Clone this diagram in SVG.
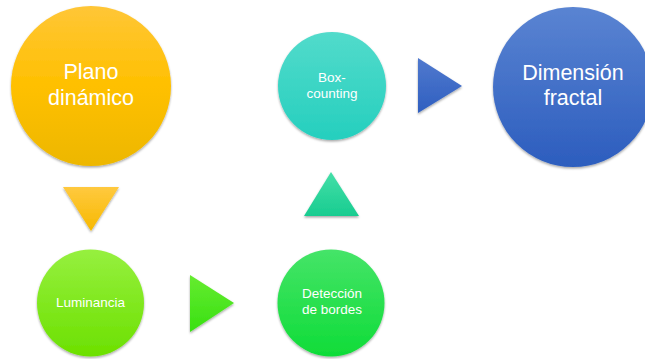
<svg xmlns="http://www.w3.org/2000/svg" width="645" height="359" viewBox="0 0 645 359">
<defs>
<linearGradient id="gY" x1="0" y1="0" x2="0" y2="1"><stop offset="0" stop-color="#FFC637"/><stop offset="0.5" stop-color="#FFC000"/><stop offset="1" stop-color="#EDB700"/></linearGradient>
<linearGradient id="gYt" x1="0" y1="0" x2="0" y2="1"><stop offset="0" stop-color="#FFC93F"/><stop offset="1" stop-color="#F7B900"/></linearGradient>
<linearGradient id="gL" x1="0" y1="0" x2="0" y2="1"><stop offset="0" stop-color="#96F03F"/><stop offset="1" stop-color="#6CE000"/></linearGradient>
<linearGradient id="gLt" x1="0" y1="0" x2="0" y2="1"><stop offset="0" stop-color="#66EC30"/><stop offset="1" stop-color="#38E012"/></linearGradient>
<linearGradient id="gD" x1="0" y1="0" x2="0" y2="1"><stop offset="0" stop-color="#45E468"/><stop offset="1" stop-color="#0FDC38"/></linearGradient>
<linearGradient id="gTt" x1="0" y1="0" x2="0" y2="1"><stop offset="0" stop-color="#44DFA8"/><stop offset="1" stop-color="#18CC90"/></linearGradient>
<linearGradient id="gT" x1="0" y1="0" x2="0" y2="1"><stop offset="0" stop-color="#52DBCB"/><stop offset="1" stop-color="#25CFBE"/></linearGradient>
<linearGradient id="gBt" x1="0" y1="0" x2="0" y2="1"><stop offset="0" stop-color="#5079CE"/><stop offset="1" stop-color="#2F5FC0"/></linearGradient>
<linearGradient id="gB" x1="0" y1="0" x2="0" y2="1"><stop offset="0" stop-color="#5A84D2"/><stop offset="1" stop-color="#2C5DBE"/></linearGradient>
<filter id="sh" x="-20%" y="-20%" width="140%" height="150%"><feDropShadow dx="0" dy="1.5" stdDeviation="1.2" flood-color="#000" flood-opacity="0.35"/></filter>
</defs>
<style>
.t{fill:#fff;font-family:"Liberation Sans",Arial,sans-serif;text-anchor:middle}
.lg{font-size:21.5px}
.sm{font-size:13.5px}
</style>
<rect width="645" height="359" fill="#fff"/>
<g id="connectors">
<polygon points="63,187 119,187 91,231" fill="url(#gYt)" filter="url(#sh)"/>
<polygon points="190,275 234,303 190,332" fill="url(#gLt)" filter="url(#sh)"/>
<polygon points="331,172 359,216 304,216" fill="url(#gTt)" filter="url(#sh)"/>
<polygon points="418,58 462,86 418,113" fill="url(#gBt)" filter="url(#sh)"/>
</g>
<g id="plano">
<circle cx="91" cy="86" r="80" fill="url(#gY)" filter="url(#sh)"/>
<text class="t lg" x="91" y="79">Plano</text>
<text class="t lg" x="91" y="105">dinámico</text>
</g>
<g id="luminancia">
<circle cx="90.5" cy="303" r="53.5" fill="url(#gL)" filter="url(#sh)"/>
<text class="t sm" x="90.5" y="307">Luminancia</text>
</g>
<g id="deteccion">
<circle cx="331" cy="303" r="53.5" fill="url(#gD)" filter="url(#sh)"/>
<text class="t sm" x="332" y="298">Detección</text>
<text class="t sm" x="332" y="314">de bordes</text>
</g>
<g id="boxcounting">
<circle cx="332" cy="86" r="54" fill="url(#gT)" filter="url(#sh)"/>
<text class="t sm" x="332" y="82">Box-</text>
<text class="t sm" x="332" y="98">counting</text>
</g>
<g id="dimension">
<circle cx="573" cy="87" r="80" fill="url(#gB)" filter="url(#sh)"/>
<text class="t lg" x="573" y="80">Dimensión</text>
<text class="t lg" x="573" y="105">fractal</text>
</g>
</svg>
